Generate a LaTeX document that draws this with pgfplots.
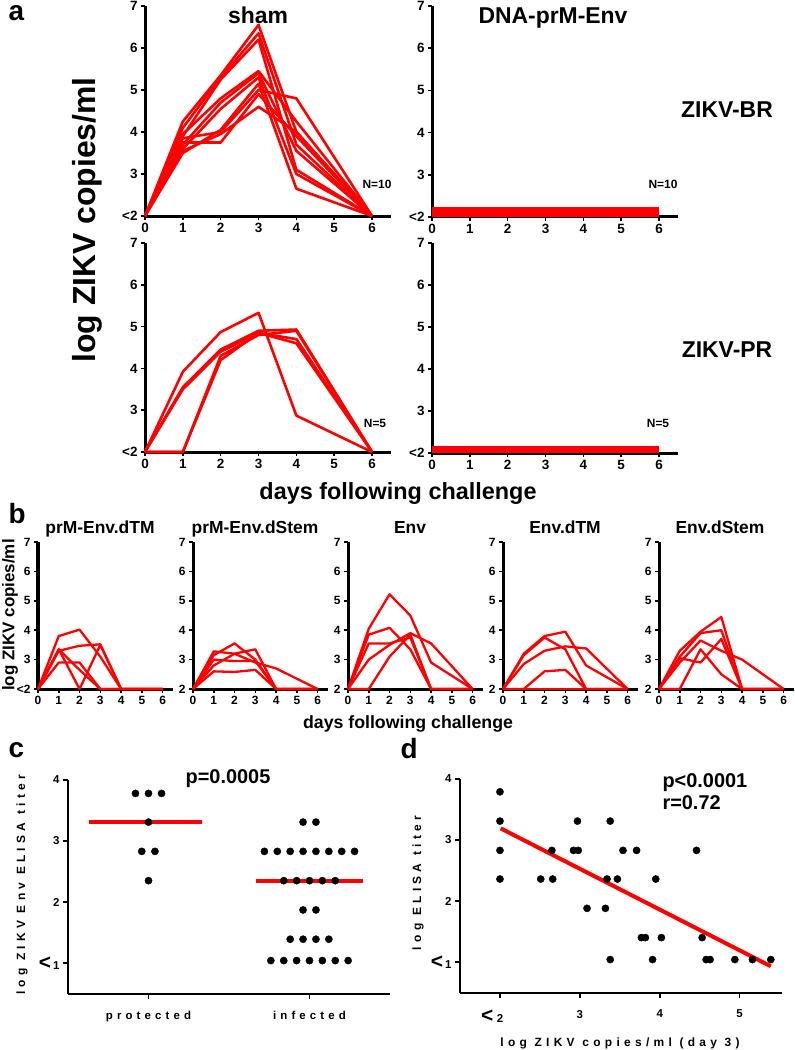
\documentclass[border=0pt]{standalone}
\usepackage{fontspec}
\setmainfont{Liberation Sans}
\newfontfamily\spaced[LetterSpace=36]{Liberation Sans}
\usepackage{pgfplots}
\pgfplotsset{compat=1.18}
\newcommand{\fs}[1]{\fontsize{#1}{#1}\selectfont}
\pgfplotsset{
  common/.style={scale only axis, anchor=north west, axis lines=left,
    axis line style={-, line width=3bp}, tick align=outside, major tick length=4bp,
    tick style={black, line width=1.5bp}, clip=false},
  pa/.style={common, width=246bp, xmin=0, xmax=6.5, ymin=2, ymax=7,
    xtick={0,...,6}, xticklabels={0,1,2,3,4,5,6}, ytick={2,...,7},
    yticklabels={<2,3,4,5,6,7}, ticklabel style={font=\bfseries\fs{13.5}}},
  pb/.style={common, width=135bp, height=147bp, xmin=0, xmax=6.5, ymin=2, ymax=7,
    xtick={0,...,6}, xticklabels={0,1,2,3,4,5,6}, ytick={2,...,7},
    yticklabels={2,3,4,5,6,7}, ticklabel style={font=\bfseries\fs{12}}},
  rl/.style={red, line width=2.6bp, line join=round, mark=none},
  rb/.style={red, line width=2.3bp, line join=round, mark=none},
  pc/.style={scale only axis, anchor=north west, axis lines=left,
    axis line style={-, line width=2bp}, tick align=outside, major tick length=5bp,
    tick style={black, line width=1.5bp}, clip=false, ymin=0.5, ymax=4,
    width=322bp, height=213.5bp, ytick={1,2,3,4},
    ticklabel style={font=\bfseries\fs{11.5}}},
  dots/.style={only marks, mark=*, mark size=3.6bp, black},
}
\begin{document}
\begin{tikzpicture}
\path[use as bounding box] (0bp,0bp) rectangle (795bp,-1050bp);

% ---------- panel a ----------
\begin{axis}[pa, at={(145bp,-6bp)}, height=210bp]
\addplot[rl] coordinates {(0,2)(1,4.25)(2,5.35)(3,6.55)(4,4.0)(6,2)};
\addplot[rl] coordinates {(0,2)(1,4.1)(2,5.3)(3,6.35)(4,3.7)(6,2)};
\addplot[rl] coordinates {(0,2)(1,3.9)(2,5.25)(3,6.2)(4,3.1)(6,2)};
\addplot[rl] coordinates {(0,2)(1,3.95)(2,4.8)(3,5.45)(4,4.25)(6,2)};
\addplot[rl] coordinates {(0,2)(1,3.7)(2,4.7)(3,5.4)(4,3.55)(6,2)};
\addplot[rl] coordinates {(0,2)(1,3.6)(2,4.55)(3,5.3)(4,3.0)(6,2)};
\addplot[rl] coordinates {(0,2)(1,3.5)(2,4.05)(3,5.15)(4,2.65)(6,2)};
\addplot[rl] coordinates {(0,2)(1,3.85)(2,4.0)(3,5.0)(4,4.8)(6,2)};
\addplot[rl] coordinates {(0,2)(1,3.75)(2,3.75)(3,4.9)(4,3.9)(6,2)};
\addplot[rl] coordinates {(0,2)(1,3.55)(2,3.95)(3,4.6)(4,4.0)(6,2)};
\end{axis}

\begin{axis}[pa, at={(432bp,-6bp)}, height=211bp]
\addplot[red, line width=10bp, line cap=butt, mark=none] coordinates {(0,2.13)(6,2.13)};
\end{axis}

\begin{axis}[pa, at={(145bp,-243bp)}, height=209bp]
\addplot[rl] coordinates {(0,2)(1,3.92)(2,4.87)(3,5.33)(4,2.87)(6,2)};
\addplot[rl] coordinates {(0,2)(1,3.55)(2,4.45)(3,4.9)(4,4.93)(6,2)};
\addplot[rl] coordinates {(0,2)(1,3.5)(2,4.4)(3,4.85)(4,4.7)(6,2)};
\addplot[rl] coordinates {(0,2)(1,2)(2,4.2)(3,4.85)(4,4.6)(6,2)};
\addplot[rl] coordinates {(0,2)(1,2)(2,4.3)(3,4.8)(4,4.9)(6,2)};
\end{axis}

\begin{axis}[pa, at={(432bp,-243bp)}, height=210bp]
\addplot[red, line width=7bp, line cap=butt, mark=none] coordinates {(0,2.08)(6,2.08)};
\end{axis}

\node[anchor=base west, font=\bfseries\fs{28}] at (5bp,-20bp) {a};
\node[anchor=base, font=\bfseries\fs{23}] at (258bp,-23bp) {sham};
\node[anchor=base, font=\bfseries\fs{23}] at (553bp,-23bp) {DNA-prM-Env};
\node[anchor=base, font=\bfseries\fs{23}] at (727bp,-117bp) {ZIKV-BR};
\node[anchor=base, font=\bfseries\fs{23}] at (727bp,-357bp) {ZIKV-PR};
\node[anchor=base, font=\bfseries\fs{12}] at (377bp,-188bp) {N=10};
\node[anchor=base, font=\bfseries\fs{12}] at (663bp,-188bp) {N=10};
\node[anchor=base, font=\bfseries\fs{12}] at (375bp,-427bp) {N=5};
\node[anchor=base, font=\bfseries\fs{12}] at (658bp,-427bp) {N=5};
\node[anchor=base, font=\bfseries\fs{23.5}] at (398bp,-499bp) {days following challenge};
\node[rotate=90, anchor=center, font=\bfseries\fs{32}] at (87bp,-220bp) {log ZIKV copies/ml};

% ---------- panel b ----------
\begin{axis}[pb, at={(38bp,-542bp)}, yticklabels={<2,3,4,5,6,7}]
\addplot[rb] coordinates {(0,2)(1,3.8)(2,4.02)(3,3.1)(4,2)(6,2)};
\addplot[rb] coordinates {(0,2)(1,3.3)(2,3.47)(3,3.52)(4,2)(6,2)};
\addplot[rb] coordinates {(0,2)(1,3.35)(2,2.65)(3,2)(6,2)};
\addplot[rb] coordinates {(0,2)(1,2.9)(2,2.9)(3,2)(6,2)};
\addplot[rb] coordinates {(0,2)(1,3.35)(2,2)(3,3.5)(4,2)(6,2)};
\end{axis}
\begin{axis}[pb, at={(193bp,-542bp)}]
\addplot[rb] coordinates {(0,2)(1,3.28)(2,3.2)(3,3.35)(4,2)(6,2)};
\addplot[rb] coordinates {(0,2)(1,3.15)(2,3.55)(3,3.0)(4,2)(6,2)};
\addplot[rb] coordinates {(0,2)(1,2.6)(2,2.58)(3,2.65)(4,2)(6,2)};
\addplot[rb] coordinates {(0,2)(1,2.8)(2,3.2)(3,2.9)(4,2.7)(6,2)};
\addplot[rb] coordinates {(0,2)(1,3.0)(2,2.95)(3,2.95)(4,2)(6,2)};
\end{axis}
\begin{axis}[pb, at={(348bp,-542bp)}]
\addplot[rb] coordinates {(0,2)(1,4.05)(2,5.22)(3,4.5)(4,2.9)(6,2)};
\addplot[rb] coordinates {(0,2)(1,3.85)(2,4.08)(3,3.35)(4,2)(6,2)};
\addplot[rb] coordinates {(0,2)(1,3.55)(2,3.55)(3,3.75)(4,2)(6,2)};
\addplot[rb] coordinates {(0,2)(1,3.0)(2,3.5)(3,3.9)(4,3.55)(6,2)};
\addplot[rb] coordinates {(0,2)(1,2)(2,3.1)(3,3.85)(4,2)(6,2)};
\end{axis}
\begin{axis}[pb, at={(503bp,-542bp)}]
\addplot[rb] coordinates {(0,2)(1,3.2)(2,3.8)(3,3.95)(4,2.8)(6,2)};
\addplot[rb] coordinates {(0,2)(1,3.15)(2,3.75)(3,3.35)(4,2)(6,2)};
\addplot[rb] coordinates {(0,2)(1,2.85)(2,3.3)(3,3.45)(4,3.38)(6,2)};
\addplot[rb] coordinates {(0,2)(1,2)(2,2.6)(3,2.65)(4,2)(6,2)};
\addplot[rb] coordinates {(0,2)(1,2)(2,2)(3,2)(4,2)(6,2)};
\end{axis}
\begin{axis}[pb, at={(659bp,-542bp)}]
\addplot[rb] coordinates {(0,2)(1,3.3)(2,3.95)(3,4.45)(4,2)(6,2)};
\addplot[rb] coordinates {(0,2)(1,3.1)(2,3.9)(3,4.0)(4,2)(6,2)};
\addplot[rb] coordinates {(0,2)(1,2.9)(2,3.65)(3,3.3)(4,3.0)(6,2)};
\addplot[rb] coordinates {(0,2)(1,3.05)(2,2.9)(3,3.7)(4,2)(6,2)};
\addplot[rb] coordinates {(0,2)(1,2)(2,3.35)(3,2.5)(4,2)(6,2)};
\end{axis}

\node[anchor=base west, font=\bfseries\fs{28}] at (5bp,-523bp) {b};
\node[anchor=base, font=\bfseries\fs{17.5}] at (100bp,-533bp) {prM-Env.dTM};
\node[anchor=base, font=\bfseries\fs{17.5}] at (255bp,-533bp) {prM-Env.dStem};
\node[anchor=base, font=\bfseries\fs{17.5}] at (410bp,-533bp) {Env};
\node[anchor=base, font=\bfseries\fs{17.5}] at (565bp,-533bp) {Env.dTM};
\node[anchor=base, font=\bfseries\fs{17.5}] at (720bp,-533bp) {Env.dStem};
\node[anchor=base, font=\bfseries\fs{17.8}] at (408bp,-728bp) {days following challenge};
\node[rotate=90, anchor=center, font=\bfseries\fs{17}] at (10bp,-615bp) {log ZIKV copies/ml};

% ---------- panel c ----------
\begin{axis}[pc, at={(68bp,-780bp)}, xmin=-0.5, xmax=1.5, xtick={0,1},
  xticklabels={protected,infected},
  xticklabel style={font=\spaced\bfseries\fs{11.5}, yshift=-9bp},
  yticklabels={{\fs{21}<}\,1,2,3,4}]
\addplot[dots] coordinates {(-0.081,3.78)(0,3.78)(0.081,3.78)(0,3.31)(-0.042,2.83)(0.04,2.83)(0,2.35)};
\addplot[dots] coordinates {(0.96,3.31)(1.04,3.31)
 (0.72,2.83)(0.80,2.83)(0.88,2.83)(0.96,2.83)(1.04,2.83)(1.12,2.83)(1.20,2.83)(1.28,2.83)
 (0.84,2.35)(0.92,2.35)(1.0,2.35)(1.08,2.35)(1.16,2.35)
 (0.96,1.87)(1.04,1.87)
 (0.88,1.39)(0.96,1.39)(1.04,1.39)(1.12,1.39)
 (0.76,1.04)(0.84,1.04)(0.92,1.04)(1.0,1.04)(1.08,1.04)(1.16,1.04)(1.24,1.04)};
\addplot[red, line width=4bp, mark=none] coordinates {(-0.37,3.31)(0.33,3.31)};
\addplot[red, line width=4bp, mark=none] coordinates {(0.67,2.35)(1.33,2.35)};
\end{axis}
\node[anchor=base west, font=\bfseries\fs{28}] at (5bp,-757bp) {c};
\node[anchor=base, font=\bfseries\fs{20}] at (228bp,-783bp) {p=0.0005};
\node[rotate=90, anchor=center, font=\spaced\bfseries\fs{12}] at (22bp,-885bp) {log ZIKV Env ELISA titer};

% ---------- panel d ----------
\begin{axis}[pc, at={(460bp,-779bp)}, xmin=1.5, xmax=5.53, xtick={2,3,4,5},
  xticklabels={\llap{\fs{21}<\,}2,3,4,5},
  xticklabel style={yshift=-9bp},
  yticklabels={{\fs{21}<}\,1,2,3,4}]
\addplot[dots] coordinates {(2,3.79)(2,3.31)(2,2.83)(2,2.36)(2.51,2.36)(2.66,2.36)(2.65,2.83)
 (2.92,2.83)(2.98,2.83)(2.97,3.31)(3.09,1.88)(3.32,1.88)(3.34,2.36)(3.38,3.31)(3.38,1.04)
 (3.47,2.36)(3.54,2.83)(3.71,2.83)(3.77,1.40)(3.82,1.40)(3.91,1.04)(3.95,2.36)(4.02,1.40)
 (4.46,2.83)(4.53,1.40)(4.58,1.04)(4.63,1.04)(4.94,1.04)(5.16,1.04)(5.39,1.04)};
\addplot[red, line width=4bp, mark=none] coordinates {(2.01,3.19)(5.39,0.93)};
\end{axis}
\node[anchor=base west, font=\bfseries\fs{28}] at (397bp,-758bp) {d};
\node[anchor=base west, font=\bfseries\fs{20}] at (659bp,-787bp) {p<0.0001};
\node[anchor=base west, font=\bfseries\fs{20}] at (659bp,-809bp) {r=0.72};
\node[rotate=90, anchor=center, font=\spaced\bfseries\fs{12}] at (418bp,-883bp) {log ELISA titer};
\node[anchor=base, font=\spaced\bfseries\fs{12}] at (620bp,-1046bp) {log ZIKV copies/ml (day 3)};
\end{tikzpicture}
\end{document}
